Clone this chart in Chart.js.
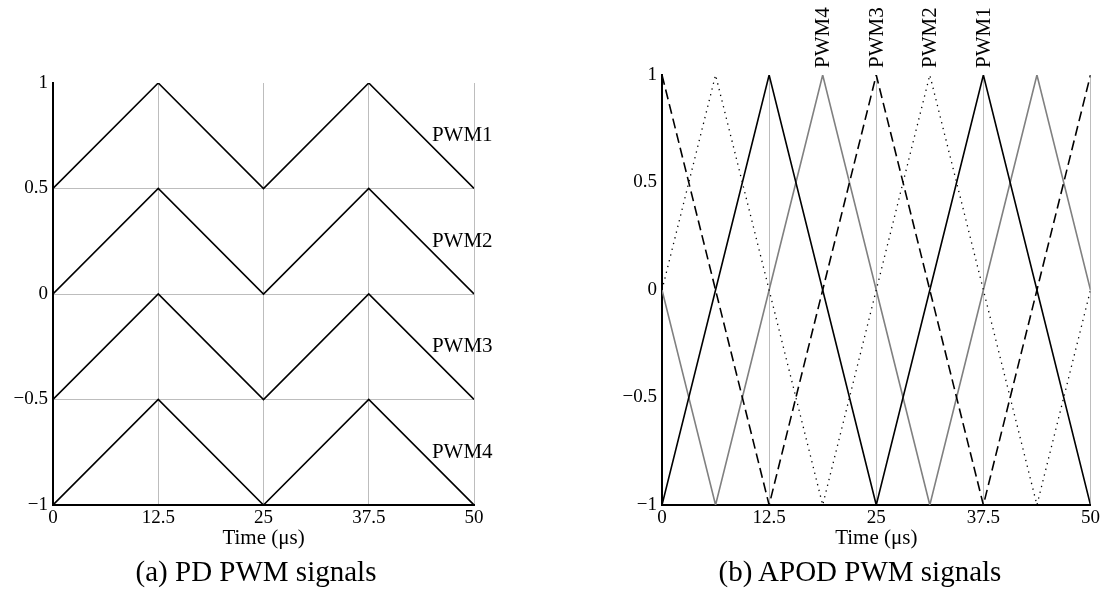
<!DOCTYPE html>
<html>
<head>
<meta charset="utf-8">
<script src="https://cdn.jsdelivr.net/npm/chart.js@4"></script>
<style>
  body { margin: 0; background: #fff; }
  #wrap { position: relative; width: 1102px; height: 592px; }
  .panel { position: absolute; top: 0; width: 551px; height: 592px; }
  .caption { position: absolute; top: 555px; font-family: 'Liberation Serif', serif; font-size: 29px; line-height: 32px; color: #000; white-space: nowrap; transform: translateX(-50%); }
</style>
</head>
<body>
<div id="wrap">
  <div class="panel" style="left:0"><canvas id="pdChart" width="551" height="592"></canvas></div>
  <div class="panel" style="left:551px"><canvas id="apodChart" width="551" height="592"></canvas></div>
  <div class="caption" style="left:256px">(a) PD PWM signals</div>
  <div class="caption" style="left:860px">(b) APOD PWM signals</div>
</div>
<script>
// axis ticks (time in microseconds, carrier amplitude)
const xTicks = [0, 12.5, 25, 37.5, 50];
const xTickLabels = ['0', '12.5', '25', '37.5', '50'];
const yTicks = [-1, -0.5, 0, 0.5, 1];
const yTickLabels = ['\u22121', '\u22120.5', '0', '0.5', '1'];

// (a) phase disposition carriers
const pdTime = [0, 12.5, 25, 37.5, 50];
const pdPwm1 = [0.5, 1, 0.5, 1, 0.5];
const pdPwm2 = [0, 0.5, 0, 0.5, 0];
const pdPwm3 = [-0.5, 0, -0.5, 0, -0.5];
const pdPwm4 = [-1, -0.5, -1, -0.5, -1];
const pdLabels = ['PWM1', 'PWM2', 'PWM3', 'PWM4'];
const pdLabelX = [45, 45, 45, 45];
const pdLabelY = [0.75, 0.25, -0.25, -0.75];

// (b) alternative phase opposition disposition carriers
const apodTime = [0, 6.25, 12.5, 18.75, 25, 31.25, 37.5, 43.75, 50];
const apodPwm1 = [-1, 0, 1, 0, -1, 0, 1, 0, -1];
const apodPwm2 = [0, 1, 0, -1, 0, 1, 0, -1, 0];
const apodPwm3 = [1, 0, -1, 0, 1, 0, -1, 0, 1];
const apodPwm4 = [0, -1, 0, 1, 0, -1, 0, 1, 0];
const apodLabels = ['PWM4', 'PWM3', 'PWM2', 'PWM1'];
const apodLabelX = [18.75, 25, 31.25, 37.5];
const apodLabelY = [1, 1, 1, 1];

const FONT = 'Liberation Serif';
const GRID = '#bdbdbd';

const toPoints = (xs, ys) => xs.map((x, i) => ({x: x, y: ys[i]}));

const pwmLabels = {
    id: 'pwmLabels',
    afterDatasetsDraw(chart, args, opts) {
        const {ctx, scales: {x, y}} = chart;
        ctx.save();
        ctx.fillStyle = '#000';
        ctx.font = '21px "' + FONT + '"';
        opts.names.forEach((name, i) => {
            const px = x.getPixelForValue(opts.xs[i]);
            const py = y.getPixelForValue(opts.ys[i]);
            if (opts.rotated) {
                ctx.save();
                ctx.translate(px + 1, py - 7);
                ctx.rotate(-Math.PI / 2);
                ctx.textAlign = 'left';
                ctx.textBaseline = 'middle';
                ctx.fillText(name, 0, 0);
                ctx.restore();
            } else {
                ctx.textAlign = 'left';
                ctx.textBaseline = 'middle';
                ctx.fillText(name, px, py);
            }
        });
        ctx.restore();
    }
};

function makeChart(id, datasets, yWidth, padding, hGrid, labelOpts) {
    return new Chart(document.getElementById(id), {
        type: 'line',
        data: {datasets: datasets},
        plugins: [pwmLabels],
        options: {
            responsive: false,
            animation: false,
            layout: {padding: padding},
            elements: {
                point: {radius: 0},
                line: {tension: 0, borderCapStyle: 'butt', borderJoinStyle: 'miter'}
            },
            scales: {
                x: {
                    type: 'linear',
                    min: 0,
                    max: 50,
                    afterBuildTicks: s => { s.ticks = xTicks.map(v => ({value: v})); },
                    afterFit: s => { s.height = 46; },
                    grid: {
                        drawTicks: false,
                        lineWidth: 1,
                        color: c => (c.tick && c.tick.value > 0) ? GRID : 'rgba(0,0,0,0)'
                    },
                    border: {display: true, color: '#000', width: 2},
                    ticks: {
                        autoSkip: false,
                        maxRotation: 0,
                        padding: 2,
                        color: '#000',
                        font: {family: FONT, size: 19},
                        callback: (v, i) => xTickLabels[i]
                    },
                    title: {
                        display: true,
                        text: 'Time (\u03bcs)',
                        color: '#000',
                        padding: {top: 0, bottom: 0},
                        font: {family: FONT, size: 21}
                    }
                },
                y: {
                    type: 'linear',
                    min: -1,
                    max: 1,
                    afterBuildTicks: s => { s.ticks = yTicks.map(v => ({value: v})); },
                    afterFit: s => { s.width = yWidth; },
                    grid: {
                        display: hGrid,
                        drawTicks: false,
                        lineWidth: 1,
                        color: c => (c.tick && Math.abs(c.tick.value) < 0.9) ? GRID : 'rgba(0,0,0,0)'
                    },
                    border: {display: true, color: '#000', width: 2},
                    ticks: {
                        padding: 5,
                        color: '#000',
                        font: {family: FONT, size: 19},
                        callback: (v, i) => yTickLabels[i]
                    }
                }
            },
            plugins: {
                legend: {display: false},
                title: {display: false},
                tooltip: {enabled: false},
                pwmLabels: labelOpts
            }
        }
    });
}

makeChart('pdChart', [
    {data: toPoints(pdTime, pdPwm1), borderColor: '#000', borderWidth: 1.6},
    {data: toPoints(pdTime, pdPwm2), borderColor: '#000', borderWidth: 1.6},
    {data: toPoints(pdTime, pdPwm3), borderColor: '#000', borderWidth: 1.6},
    {data: toPoints(pdTime, pdPwm4), borderColor: '#000', borderWidth: 1.6}
], 53, {left: 0, right: 77, top: 83, bottom: 41}, true,
   {names: pdLabels, xs: pdLabelX, ys: pdLabelY, rotated: false});

makeChart('apodChart', [
    {data: toPoints(apodTime, apodPwm1), borderColor: '#000', borderWidth: 1.6},
    {data: toPoints(apodTime, apodPwm2), borderColor: '#000', borderWidth: 1.3, borderDash: [1.3, 4.6]},
    {data: toPoints(apodTime, apodPwm3), borderColor: '#000', borderWidth: 1.6, borderDash: [10, 5]},
    {data: toPoints(apodTime, apodPwm4), borderColor: '#808080', borderWidth: 1.6}
], 111, {left: 0, right: 11, top: 75, bottom: 41}, false,
   {names: apodLabels, xs: apodLabelX, ys: apodLabelY, rotated: true});
</script>
</body>
</html>
